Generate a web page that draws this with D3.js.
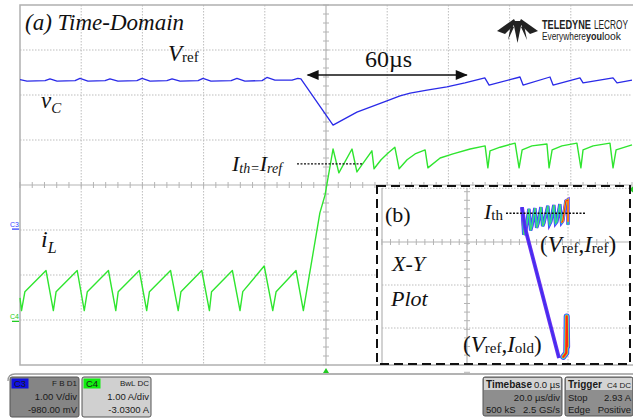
<!DOCTYPE html>
<html><head><meta charset="utf-8">
<script src="https://cdn.jsdelivr.net/npm/d3@7"></script>
<style>body{margin:0;background:#fff}svg{display:block}</style>
</head><body>
<svg id="c" width="633" height="420"></svg>
<script>
// ---------- DATA ----------
// C3 (blue) capacitor voltage vC : time (µs) / volts
const vcTime = [-100.0,-97.7,-91.8,-90.2,-87.9,-82.0,-80.4,-77.8,-72.2,-70.6,-68.0,-61.8,-60.1,-57.5,-52.0,-50.3,-47.7,-41.8,-40.2,-37.6,-31.0,-29.1,-26.5,-20.9,-19.3,-16.7,-11.1,-9.2,-8.2,2.3,10.1,19.9,24.2,27.5,33.0,39.5,45.4,51.9,53.3,63.4,64.4,73.2,74.2,83.0,84.0,93.8,95.1,100.0];
const vcVolts = [3.32,3.29,3.30,3.34,3.29,3.30,3.35,3.29,3.30,3.34,3.29,3.30,3.35,3.29,3.30,3.34,3.29,3.30,3.35,3.29,3.30,3.35,3.29,3.30,3.37,3.31,3.31,3.35,3.34,2.31,2.60,2.85,2.96,3.02,3.09,3.16,3.25,3.36,3.20,3.38,3.20,3.38,3.20,3.36,3.25,3.36,3.25,3.31];
// C4 (green) inductor current iL : time (µs) / amps
const ilTime = [-100.0,-99.5,-98.4,-91.5,-89.1,-88.2,-81.3,-79.0,-78.0,-71.1,-68.7,-67.9,-61.0,-58.6,-57.7,-50.8,-48.3,-47.4,-40.6,-38.1,-37.4,-30.6,-28.1,-27.2,-20.2,-17.4,-16.3,-9.8,-7.4,-2.0,-0.3,2.3,4.2,8.5,10.1,15.0,15.7,18.0,20.3,22.5,23.9,26.5,29.1,32.4,33.3,37.3,41.5,47.1,52.0,52.9,53.6,56.9,61.8,63.1,64.1,67.3,72.2,72.9,73.9,77.1,82.0,83.3,84.0,87.3,92.8,93.8,94.8,100.0];
const ilAmps = [0.52,0.24,0.66,1.13, 0.24,0.66,1.13, 0.24,0.66,1.13, 0.24,0.66,1.13, 0.24,0.66,1.13, 0.24,0.66,1.13, 0.24,0.66,1.13, 0.24,0.66,1.23, 0.24,0.66,1.13, 0.24,2.41,2.81,3.83,3.30,3.83,3.32,3.79,3.39,3.59,3.74,3.87,3.39,3.59,3.72,3.81,3.41,3.63,3.72,3.83,3.90,3.41,3.79,3.87,3.96,3.41,3.81,3.90,3.94,3.41,3.81,3.90,3.96,3.41,3.81,3.90,3.96,3.41,3.81,3.92];
// X-Y inset : vC (V) vs iL (A)
const xyLineV = [3.12,2.33,2.26];
const xyLineI = [0.33,3.36,3.84];
const xyZigV = [2.26,2.30,2.35,2.42,2.46,2.49,2.56,2.60,2.63,2.70,2.74,2.77,2.86,2.90,2.93,3.00,3.04,3.07,3.14,3.18,3.21,3.28,3.33,3.33];
const xyZigI = [3.84,3.20,3.31,3.80,3.30,3.40,3.82,3.36,3.45,3.84,3.40,3.47,3.87,3.44,3.50,3.89,3.46,3.50,3.91,3.48,3.52,3.98,4.01,3.43];
const xyHotV = [3.18,3.21,3.28,3.33,3.33];
const xyHotI = [3.48,3.52,3.98,4.01,3.50];
const xyBlobV = [3.22,3.29,3.30,3.31];
const xyBlobI = [0.36,0.45,1.30,0.60];
const iThAmps = 3.70;      // inset threshold level
const iThMain = 3.50;      // main threshold level
// grid / tick values
const gridTimes = [-80,-60,-40,-20,0,20,40,60,80];
const gridDivs = [-3,-2,-1,1,2,3];
const insetGridV = [3.33];
const insetGridI = [4.28,2.03,1.03];
// readout panel texts
const ch3Text = ["C3","F B D1","1.00 V/div","-980.00 mV"];
const ch4Text = ["C4","BwL DC","1.00 A/div","-3.0300 A"];
const tbText = ["Timebase","0.0 µs","20.0 µs/div","500 kS","2.5 GS/s"];
const trText = ["Trigger","C4 DC","Stop","2.93 A","Edge","Positive"];

// ---------- SCALES ----------
const svg = d3.select('#c');
const L=20,R=632,T=5,B=365;
const x = d3.scaleLinear().domain([-100,100]).range([L,R]);
const yDiv = d3.scaleLinear().domain([-4,4]).range([B,T]);
const yV = d3.scaleLinear().domain([0.98-4,0.98+4]).range([B,T]);
const yI = d3.scaleLinear().domain([3.03-4,3.03+4]).range([B,T]);
const ix = d3.scaleLinear().domain([0.98,3.33]).range([467,568]);
const iy = d3.scaleLinear().domain([3.03,1.03]).range([242,328]);

// ---------- GRID ----------
const g = svg.append('g');
gridTimes.filter(t=>t!==0).forEach(t=>g.append('line').attr('x1',x(t)).attr('x2',x(t)).attr('y1',T).attr('y2',B)
  .attr('stroke','#bdbdbd').attr('stroke-width',1).attr('stroke-dasharray','1.5,1.5'));
gridDivs.forEach(d=>g.append('line').attr('x1',L).attr('x2',R).attr('y1',yDiv(d)).attr('y2',yDiv(d))
  .attr('stroke','#bdbdbd').attr('stroke-width',1).attr('stroke-dasharray','1.5,1.5'));
g.append('line').attr('x1',x(0)).attr('x2',x(0)).attr('y1',T).attr('y2',B).attr('stroke','#b4b4b4').attr('stroke-width',1.2);
g.append('line').attr('x1',L).attr('x2',R).attr('y1',yDiv(0)).attr('y2',yDiv(0)).attr('stroke','#b4b4b4').attr('stroke-width',1.2);
d3.range(-100,100.01,4).forEach(t=>g.append('line').attr('x1',x(t)).attr('x2',x(t)).attr('y1',yDiv(0)-3).attr('y2',yDiv(0)+3).attr('stroke','#b4b4b4'));
d3.range(-4,4.01,0.2).forEach(d=>g.append('line').attr('x1',x(0)-3).attr('x2',x(0)+3).attr('y1',yDiv(d)).attr('y2',yDiv(d)).attr('stroke','#b4b4b4'));
g.append('rect').attr('x',L).attr('y',T).attr('width',R-L+2).attr('height',B-T).attr('fill','none').attr('stroke','#b0b0b0').attr('stroke-width',1.5);

// ---------- TRACES ----------
const vLine = d3.line().x(d=>x(d[0])).y(d=>yV(d[1]));
const iLine = d3.line().x(d=>x(d[0])).y(d=>yI(d[1]));
svg.append('path').attr('d',vLine(d3.zip(vcTime,vcVolts))).attr('fill','none').attr('stroke','#2a2ae8').attr('stroke-width',1.3).attr('stroke-linejoin','round');
svg.append('path').attr('d',iLine(d3.zip(ilTime,ilAmps))).attr('fill','none').attr('stroke','#2fe52f').attr('stroke-width',1.4).attr('stroke-linejoin','round');

// channel markers
svg.append('text').attr('x',10).attr('y',227).attr('font-family','Liberation Sans').attr('font-size',7).attr('fill','#3344ff').text('C3');
svg.append('line').attr('x1',12).attr('x2',19).attr('y1',yV(0)).attr('y2',yV(0)).attr('stroke','#3344ff').attr('stroke-width',1.3);
svg.append('text').attr('x',10).attr('y',319).attr('font-family','Liberation Sans').attr('font-size',7).attr('fill','#22cc22').text('C4');
svg.append('line').attr('x1',12).attr('x2',19).attr('y1',yI(0)).attr('y2',yI(0)).attr('stroke','#22cc22').attr('stroke-width',1.3);
// trigger markers
svg.append('path').attr('d',`M${x(0)-3},${B+8} L${x(0)+3},${B+8} L${x(0)},${B+3} Z`).attr('fill','#22cc22');
svg.append('path').attr('d',`M${R+1},${yI(2.93)-3} L${R+1},${yI(2.93)+3} L${R-3},${yI(2.93)} Z`).attr('fill','#22cc22');

// ---------- MAIN LABELS ----------
const serif = 'Liberation Serif, Times New Roman, serif';
function txt(xp,yp,size,style){return svg.append('text').attr('x',xp).attr('y',yp).attr('font-family',serif).attr('font-size',size).attr('font-style',style||'normal').attr('fill','#111');}
txt(25,30,23,'italic').text('(a) Time-Domain');
let t1 = txt(168,61,23,'italic'); t1.append('tspan').text('V'); t1.append('tspan').attr('font-style','normal').attr('font-size',15).attr('dy',1).text('ref');
let t2 = txt(41,108,23,'italic'); t2.append('tspan').text('v'); t2.append('tspan').attr('font-size',15).attr('dy',5).text('C');
let t3 = txt(232,171,22,'italic'); t3.append('tspan').text('I'); t3.append('tspan').attr('font-size',14).attr('dy',2).text('th'); t3.append('tspan').attr('font-size',14).text('='); t3.append('tspan').attr('dy',-2).text('I'); t3.append('tspan').attr('font-size',14).attr('dy',2).text('ref');
svg.append('line').attr('x1',297).attr('x2',362).attr('y1',yI(iThMain)).attr('y2',yI(iThMain)).attr('stroke','#111').attr('stroke-width',1.4).attr('stroke-dasharray','2,1.5');
let t4 = txt(41,247,24,'italic'); t4.append('tspan').text('i'); t4.append('tspan').attr('font-size',16).attr('dy',6).text('L');
txt(365,67,24).text('60µs');
// double arrow
svg.append('line').attr('x1',x(-6)).attr('x2',x(46)).attr('y1',75).attr('y2',75).attr('stroke','#111').attr('stroke-width',1.6);
svg.append('path').attr('d',`M${x(-6)-1},75 l12,-5 l0,10 Z`).attr('fill','#111');
svg.append('path').attr('d',`M${x(46)+1},75 l-12,-5 l0,10 Z`).attr('fill','#111');

// ---------- LOGO ----------
const lg = svg.append('g').attr('fill','#222');
lg.append('path').attr('d','M497,31 L514,19 L516,23 L505,34 Z');
lg.append('path').attr('d','M538,31 L521,19 L519,23 L530,34 Z');
lg.append('path').attr('d','M513,21 L522,21 L517.5,43 Z');
lg.append('path').attr('d','M511,25 L514,27 L508,40 Z');
lg.append('path').attr('d','M524,25 L521,27 L527,40 Z');
// condensed logo words: measure natural width, then squeeze horizontally with a transform
function lt(xp,yp,s,w,bold,str){
  const t = svg.append('text').attr('x',0).attr('y',0).attr('font-family','Liberation Sans, Arial, sans-serif').attr('font-size',s).attr('font-weight',bold?'bold':'normal').attr('fill','#222').text(str);
  const nat = t.node().getComputedTextLength() || w;
  t.attr('transform',`translate(${xp},${yp}) scale(${(w/nat).toFixed(3)},1)`);
}
lt(542,29,12,49,true,'TELEDYNE');
lt(594,29,12,34,false,'LECROY');
lt(542,40,10.5,44,false,'Everywhere');
lt(586,40,10.5,16,true,'you');
lt(602,40,10.5,19,false,'look');

// ---------- INSET (b) ----------
const inset = svg.append('g');
inset.append('rect').attr('x',377).attr('y',186).attr('width',253).attr('height',178).attr('fill','#fff');
insetGridV.forEach(v=>inset.append('line').attr('x1',ix(v)).attr('x2',ix(v)).attr('y1',188).attr('y2',363).attr('stroke','#bdbdbd').attr('stroke-dasharray','1.5,1.5'));
insetGridI.forEach(a=>inset.append('line').attr('x1',382).attr('x2',629).attr('y1',iy(a)).attr('y2',iy(a)).attr('stroke','#bdbdbd').attr('stroke-dasharray','1.5,1.5'));
inset.append('line').attr('x1',ix(0.98)).attr('x2',ix(0.98)).attr('y1',188).attr('y2',363).attr('stroke','#b4b4b4').attr('stroke-width',1.2);
inset.append('line').attr('x1',382).attr('x2',629).attr('y1',iy(3.03)).attr('y2',iy(3.03)).attr('stroke','#b4b4b4').attr('stroke-width',1.2);
inset.append('line').attr('x1',382).attr('x2',382).attr('y1',188).attr('y2',363).attr('stroke','#b4b4b4').attr('stroke-width',1.2);
d3.range(-1,4.6,0.2).forEach(v=>inset.append('line').attr('x1',ix(v)).attr('x2',ix(v)).attr('y1',iy(3.03)-3).attr('y2',iy(3.03)+3).attr('stroke','#b4b4b4'));
d3.range(0,4.4,0.2).forEach(a=>inset.append('line').attr('x1',ix(0.98)-3).attr('x2',ix(0.98)+3).attr('y1',iy(a)).attr('y2',iy(a)).attr('stroke','#b4b4b4'));

const xyl = d3.line().x(d=>ix(d[0])).y(d=>iy(d[1]));
const zig = xyl(d3.zip(xyZigV,xyZigI));
[['#6a2cf0',3.4],['#2a6cff',2.5],['#20d0d0',1.5],['#50e040',0.7]].forEach(([c,w])=>inset.append('path').attr('d',zig).attr('fill','none').attr('stroke',c).attr('stroke-width',w).attr('stroke-linejoin','miter'));
const hot = xyl(d3.zip(xyHotV,xyHotI));
[['#e8e020',2.0],['#ff2a10',1.1]].forEach(([c,w])=>inset.append('path').attr('d',hot).attr('fill','none').attr('stroke',c).attr('stroke-width',w).attr('stroke-linejoin','miter'));
inset.append('path').attr('d',xyl(d3.zip(xyLineV,xyLineI))).attr('fill','none').attr('stroke','#6a2cf0').attr('stroke-width',3.8).attr('stroke-linejoin','round');
inset.append('path').attr('d',xyl(d3.zip(xyLineV,xyLineI))).attr('fill','none').attr('stroke','#4030f0').attr('stroke-width',1.8);
const blob = xyl(d3.zip(xyBlobV,xyBlobI));
[['#5a2cf0',6],['#20c8f0',4.6],['#d8e020',3.2],['#ff2a10',2.2]].forEach(([c,w])=>inset.append('path').attr('d',blob).attr('fill','none').attr('stroke',c).attr('stroke-width',w).attr('stroke-linejoin','round').attr('stroke-linecap','round'));

inset.append('line').attr('x1',506).attr('x2',585).attr('y1',iy(iThAmps)).attr('y2',iy(iThAmps)).attr('stroke','#111').attr('stroke-width',1.4).attr('stroke-dasharray','2,1.5');
txt(385,222,22).text('(b)');
let t5 = txt(484,219,22,'italic'); t5.append('tspan').text('I'); t5.append('tspan').attr('font-style','normal').attr('font-size',15).attr('dy',1).text('th');
txt(392,271,22,'italic').text('X-Y');
txt(391,306,22,'italic').text('Plot');
function pair(xp,yp,sub2){const t=txt(xp,yp,23); t.append('tspan').text('('); t.append('tspan').attr('font-style','italic').text('V'); t.append('tspan').attr('font-size',15).attr('dy',1).text('ref'); t.append('tspan').attr('dy',-1).text(','); t.append('tspan').attr('font-style','italic').text('I'); t.append('tspan').attr('font-size',15).attr('dy',1).text(sub2); t.append('tspan').attr('dy',-1).text(')');}
pair(540,252,'ref');
pair(463,352,'old');
inset.append('rect').attr('x',377).attr('y',186).attr('width',253).attr('height',178).attr('fill','none').attr('stroke','#111').attr('stroke-width',2).attr('stroke-dasharray','9,5');

// ---------- READOUT PANEL ----------
svg.append('path').attr('d','M8,381 Q8,374 15,374 L633,374').attr('fill','none').attr('stroke','#9a9a9a').attr('stroke-width',1.3);
const sans='Liberation Sans, Arial, sans-serif';
function ptxt(xp,yp,s,anchor,opt){return svg.append('text').attr('x',xp).attr('y',yp).attr('font-family',sans).attr('font-size',s).attr('text-anchor',anchor||'start').attr('fill',(opt&&opt.fill)||'#1a1a1a').attr('font-weight',(opt&&opt.bold)?'bold':'normal');}
function chBox(x0,fill,lab,labFill,texts){
  svg.append('rect').attr('x',x0).attr('y',377).attr('width',69).attr('height',40).attr('rx',2).attr('fill',fill).attr('stroke','#555').attr('stroke-width',1);
  svg.append('rect').attr('x',x0+1.5).attr('y',378.5).attr('width',17).attr('height',10).attr('fill',labFill);
  ptxt(x0+10,387,9.5,'middle').text(texts[0]);
  ptxt(x0+67,386,8,'end').text(texts[1]);
  ptxt(x0+67,400,9.5,'end').text(texts[2]);
  ptxt(x0+67,413,9.5,'end').text(texts[3]);
}
chBox(10,'#858585','C3','#1010e0',ch3Text);
chBox(82,'#d0d0d0','C4','#10ee10',ch4Text);
function infoBox(x0,w,texts,tr){
  svg.append('rect').attr('x',x0).attr('y',377).attr('width',w).attr('height',39).attr('rx',2).attr('fill','#8e8e8e').attr('stroke','#555');
  svg.append('rect').attr('x',x0+1).attr('y',378).attr('width',w-2).attr('height',12).attr('fill','#d4d4d4');
  ptxt(x0+3,388,10,'start',{bold:true}).text(texts[0]);
  ptxt(x0+w-2,388,tr?8:9.5,'end').text(texts[1]);
}
infoBox(483,79,tbText,false);
ptxt(560,401,9.5,'end').text(tbText[2]);
ptxt(486,413,9.5,'start').text(tbText[3]);
ptxt(560,413,9.5,'end').text(tbText[4]);
infoBox(565,68,trText,true);
ptxt(568,401,9.5,'start').text(trText[2]);
ptxt(631,401,9.5,'end').text(trText[3]);
ptxt(568,413,9.5,'start').text(trText[4]);
ptxt(631,413,9.5,'end').text(trText[5]);
</script>
</body></html>
